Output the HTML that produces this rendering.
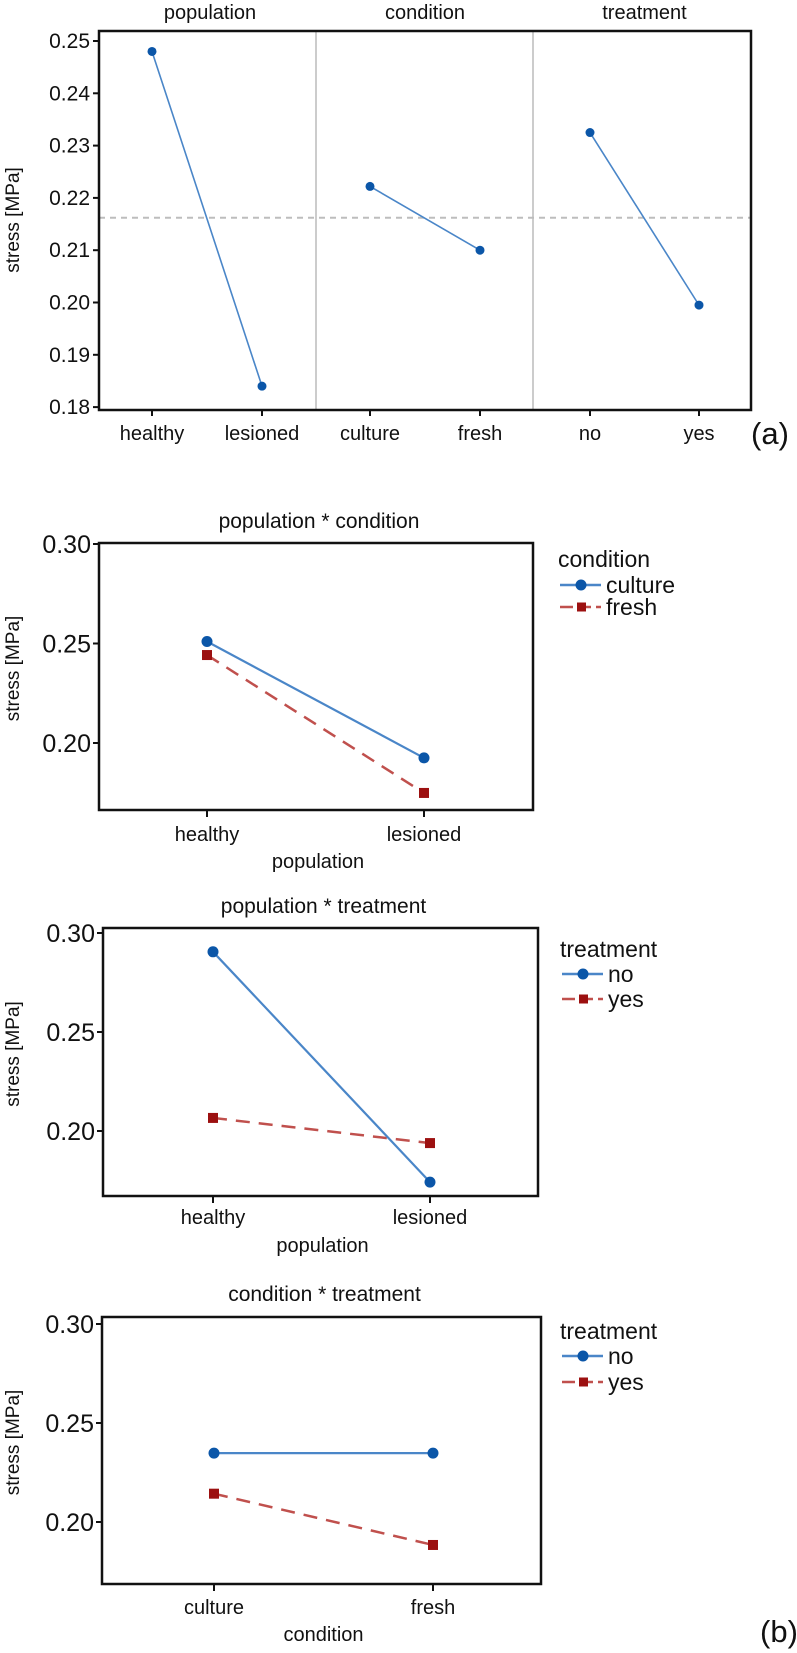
<!DOCTYPE html>
<html><head><meta charset="utf-8">
<style>
html,body{margin:0;padding:0;background:#fff;}
svg{display:block;font-family:"Liberation Sans",Arial,sans-serif;}
</style></head>
<body>
<svg id="fig" width="797" height="1653" viewBox="0 0 797 1653" xmlns="http://www.w3.org/2000/svg"></svg>
<script>
// ---- Panel (a) data ----
const aFactors = ["population","condition","treatment"];
const aLevels = [["healthy","lesioned"],["culture","fresh"],["no","yes"]];
const aValues = [[0.248,0.184],[0.2222,0.2100],[0.2325,0.1995]];
const aGrandMean = 0.2162;
const aTicks = [0.18,0.19,0.20,0.21,0.22,0.23,0.24,0.25];
const aTickLabels = ["0.18","0.19","0.20","0.21","0.22","0.23","0.24","0.25"];

// ---- Panel (b) data ----
const bTitles = ["population * condition","population * treatment","condition * treatment"];
const bXLevels = [["healthy","lesioned"],["healthy","lesioned"],["culture","fresh"]];
const bXTitles = ["population","population","condition"];
const bLegendTitles = ["condition","treatment","treatment"];
const bSeriesNames = [["culture","fresh"],["no","yes"],["no","yes"]];
const bSeries1 = [[0.2510,0.1925],[0.2905,0.1742],[0.2348,0.2348]];
const bSeries2 = [[0.2442,0.1749],[0.2066,0.1939],[0.2143,0.1884]];
const bTicks = [0.20,0.25,0.30];
const bTickLabels = ["0.20","0.25","0.30"];

const NS="http://www.w3.org/2000/svg";
const svg=document.getElementById('fig');
function mk(tag,attrs,parent){const e=document.createElementNS(NS,tag);for(const k in attrs)e.setAttribute(k,attrs[k]);(parent||svg).appendChild(e);return e;}
function txt(s,attrs,parent){const e=mk('text',attrs,parent);e.textContent=s;return e;}

const BLUE_L="#4a86c8", BLUE_M="#0b56a8", RED_L="#c0504d", RED_M="#9c1010";

// ===== Panel (a) =====
(function(){
  const L=99,R=751,T=31,B=410;
  const y0v=0.25,y0p=41,perUnit=5230;
  const y=v=>y0p+(y0v-v)*perUnit;
  const xPos=[[152,262],[370,480],[590,699]];
  const seps=[316,533];
  const g=mk('g',{});
  
  
  const gm=mk('line',{x1:L,x2:R,y1:y(aGrandMean),y2:y(aGrandMean),stroke:"#bdbdbd","stroke-width":2,"stroke-dasharray":"6,5"},g);
  
  
  seps.forEach((sx,i)=>{const s=mk('line',{x1:sx,x2:sx,y1:T,y2:B,stroke:"#bbbbbb","stroke-width":1.5},g);
    
    });
  const box=mk('rect',{x:L,y:T,width:R-L,height:B-T,fill:"none",stroke:"#111","stroke-width":2.5},g);
  
  
  aTicks.forEach((v,i)=>{
    mk('line',{x1:L-6,x2:L,y1:y(v),y2:y(v),stroke:"#111","stroke-width":2},g);
    const t=txt(aTickLabels[i],{x:L-9,y:y(v)+7,"font-size":21,"text-anchor":"end",fill:"#111"},g);
    
    
  });
  const yl=txt("stress [MPa]",{x:0,y:0,"font-size":19,"text-anchor":"middle",fill:"#111",transform:"translate(19,220) rotate(-90)"},g);
  
  
  aFactors.forEach((f,i)=>{
    const cx=(xPos[i][0]+xPos[i][1])/2;
    const ft=txt(f,{x:cx+(i==0?3:0),y:19,"font-size":20,"text-anchor":"middle",fill:"#111"},g);
    
    
    const ln=mk('line',{x1:xPos[i][0],y1:y(aValues[i][0]),x2:xPos[i][1],y2:y(aValues[i][1]),stroke:BLUE_L,"stroke-width":1.6},g);
    
    
    aLevels[i].forEach((lv,j)=>{
      mk('line',{x1:xPos[i][j],x2:xPos[i][j],y1:B,y2:B+6,stroke:"#111","stroke-width":2},g);
      const xt=txt(lv,{x:xPos[i][j],y:440,"font-size":20,"text-anchor":"middle",fill:"#111"},g);
      
      
      const c=mk('circle',{cx:xPos[i][j],cy:y(aValues[i][j]),r:4.5,fill:BLUE_M},g);
      
      
    });
  });
  const la=txt("(a)",{x:770,y:444,"font-size":31,"text-anchor":"middle",fill:"#111"},g);
  
  
})();

// ===== Panels (b) =====
const bGeom=[
  {L:99,R:533,T:543,B:810,y30:544,y20:743,x:[207,424],tY:528,lbY:841,axY:868,legX:560,legT:559,legE:[585,607]},
  {L:103,R:538,T:928,B:1196,y30:933,y20:1131,x:[213,430],tY:913,lbY:1224,axY:1252,legX:562,legT:949,legE:[974,999]},
  {L:102,R:541,T:1317,B:1584,y30:1324,y20:1522,x:[214,433],tY:1301,lbY:1614,axY:1641,legX:562,legT:1331,legE:[1356,1382]}
];
bGeom.forEach((G,p)=>{
  const y=v=>G.y20+(0.20-v)*(G.y20-G.y30)/0.10;
  const g=mk('g',{});
  
  
  const tt=txt(bTitles[p],{x:(G.L+G.R)/2+3,y:G.tY,"font-size":21,"text-anchor":"middle",fill:"#111"},g);
  
  
  const box=mk('rect',{x:G.L,y:G.T,width:G.R-G.L,height:G.B-G.T,fill:"none",stroke:"#111","stroke-width":2.5},g);
  
  
  bTicks.forEach((v,i)=>{
    mk('line',{x1:G.L-6,x2:G.L,y1:y(v),y2:y(v),stroke:"#111","stroke-width":2},g);
    const t=txt(bTickLabels[i],{x:G.L-8,y:y(v)+9,"font-size":25,"text-anchor":"end",fill:"#111"},g);
    
    
  });
  const yl=txt("stress [MPa]",{x:0,y:0,"font-size":19,"text-anchor":"middle",fill:"#111",transform:"translate(19,"+((G.T+G.B)/2-8)+") rotate(-90)"},g);
  
  
  bXLevels[p].forEach((lv,j)=>{
    mk('line',{x1:G.x[j],x2:G.x[j],y1:G.B,y2:G.B+7,stroke:"#111","stroke-width":2},g);
    const t=txt(lv,{x:G.x[j],y:G.lbY,"font-size":20,"text-anchor":"middle",fill:"#111"},g);
    
    
  });
  const xa=txt(bXTitles[p],{x:(G.L+G.R)/2+2,y:G.axY,"font-size":20,"text-anchor":"middle",fill:"#111"},g);
  
  
  const l2=mk('line',{x1:G.x[0],y1:y(bSeries2[p][0]),x2:G.x[1],y2:y(bSeries2[p][1]),stroke:RED_L,"stroke-width":2.5,"stroke-dasharray":"14,9"},g);
  
  
  const l1=mk('line',{x1:G.x[0],y1:y(bSeries1[p][0]),x2:G.x[1],y2:y(bSeries1[p][1]),stroke:BLUE_L,"stroke-width":2.2},g);
  
  
  for(let j=0;j<2;j++){
    const s=mk('rect',{x:G.x[j]-5,y:y(bSeries2[p][j])-5,width:10,height:10,fill:RED_M},g);
    
    
    const c=mk('circle',{cx:G.x[j],cy:y(bSeries1[p][j]),r:5.5,fill:BLUE_M},g);
    
    
  }
  const lg=mk('g',{},g);
  
  
  const lt=txt(bLegendTitles[p],{x:G.legX-2,y:G.legT+8,"font-size":23,fill:"#111"},lg);
  
  
  [0,1].forEach(k=>{
    const ey=G.legE[k];
    const e=mk('g',{},lg);
    
    
    if(k==0){
      mk('line',{x1:G.legX,x2:G.legX+41,y1:ey,y2:ey,stroke:BLUE_L,"stroke-width":2.5},e);
      mk('circle',{cx:G.legX+21,cy:ey,r:5.5,fill:BLUE_M},e);
    }else{
      mk('line',{x1:G.legX,x2:G.legX+41,y1:ey,y2:ey,stroke:RED_L,"stroke-width":2.5,"stroke-dasharray":"13,5"},e);
      mk('rect',{x:G.legX+17,y:ey-4.5,width:9,height:9,fill:RED_M},e);
    }
    txt(bSeriesNames[p][k],{x:G.legX+46,y:ey+8,"font-size":23,fill:"#111"},e);
  });
});
const lb=txt("(b)",{x:779,y:1642,"font-size":31,"text-anchor":"middle",fill:"#111"});


</script>
</body></html>
